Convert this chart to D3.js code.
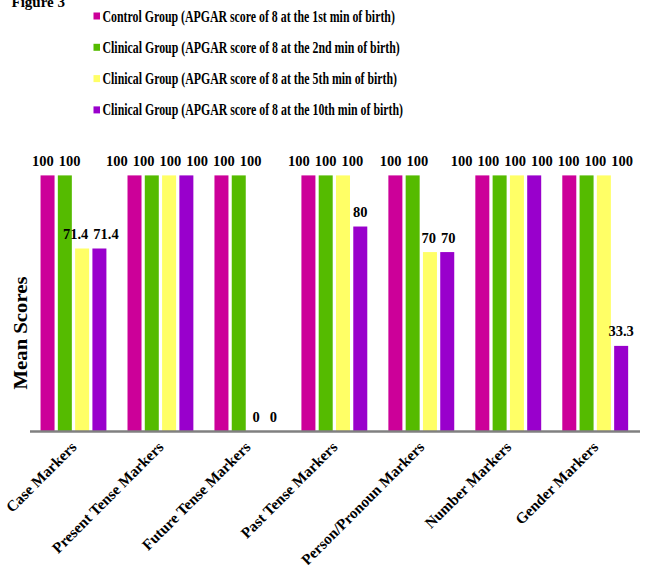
<!DOCTYPE html>
<html>
<head>
<meta charset="utf-8">
<script src="https://cdn.jsdelivr.net/npm/d3@7"></script>
<style>
  html, body { margin: 0; padding: 0; background: #fff; }
  svg text { font-family: "Liberation Serif", "Times New Roman", serif; font-weight: bold; fill: #000; }
</style>
</head>
<body>
<svg id="chart" width="645" height="565"></svg>
<script>
// Categories of grammatical markers
const categories = [
  "Case Markers", "Present Tense Markers", "Future Tense Markers",
  "Past Tense Markers", "Person/Pronoun Markers", "Number Markers", "Gender Markers"
];

// Series names (legend entries)
const seriesNames = [
  "Control Group (APGAR score of 8 at the 1st min of birth)",
  "Clinical Group (APGAR score of 8 at the 2nd min of birth)",
  "Clinical Group (APGAR score of 8 at the 5th min of birth)",
  "Clinical Group (APGAR score of 8 at the 10th min of birth)"
];

// Mean scores per series
const control1st  = [100, 100, 100, 100, 100, 100, 100];
const clinical2nd = [100, 100, 100, 100, 100, 100, 100];
const clinical5th = [71.4, 100, 0, 100, 70, 100, 100];
const clinical10th = [71.4, 100, 0, 80, 70, 100, 33.3];

const seriesColors = ["#cc0099", "#55bb00", "#ffff66", "#9900cc"];

const seriesValues = [control1st, clinical2nd, clinical5th, clinical10th];

const svg = d3.select("#chart");

const x0 = d3.scaleBand()
  .domain(categories)
  .range([30, 638.7])
  .paddingInner(0)
  .paddingOuter(0);

const x1 = d3.scaleBand()
  .domain(d3.range(seriesNames.length))
  .range([0, x0.bandwidth()])
  .paddingInner(0.19)
  .paddingOuter(0.61);

const y = d3.scaleLinear().domain([0, 100]).range([431, 175.4]);

// Condense or stretch a text run along its baseline
function fitLength(sel, factor) {
  const len = sel.node().getComputedTextLength();
  sel.attr("textLength", len * factor).attr("lengthAdjust", "spacingAndGlyphs");
  return sel;
}

// Title
svg.append("text")
  .attr("x", 11.5)
  .attr("y", 7)
  .style("font-size", "15px")
  .text("Figure 3");

// Legend
const legend = svg.append("g").attr("class", "legend");
seriesNames.forEach((name, i) => {
  const cy = 16 + i * 31.3;
  legend.append("rect")
    .attr("x", 93.5).attr("y", cy - 3.5)
    .attr("width", 6.5).attr("height", 7)
    .attr("fill", seriesColors[i]);
  legend.append("text")
    .attr("x", 102.5).attr("y", cy + 5.5)
    .style("font-size", "16px")
    .text(name)
    .call(fitLength, 0.74);
});

// Bars
const rows = [];
categories.forEach((cat, ci) => {
  seriesValues.forEach((vals, si) => {
    rows.push({ cat, si, value: vals[ci] });
  });
});

svg.append("g")
  .selectAll("rect")
  .data(rows.filter(d => d.value > 0))
  .join("rect")
  .attr("x", d => x0(d.cat) + x1(d.si))
  .attr("y", d => y(d.value))
  .attr("width", x1.bandwidth())
  .attr("height", d => y(0) - y(d.value))
  .attr("fill", d => seriesColors[d.si]);

// Value labels, spread apart where neighbours on the same line would collide
const labelG = svg.append("g");
const labels = rows.map(d => {
  const t = labelG.append("text")
    .attr("text-anchor", "middle")
    .style("font-size", "14.5px")
    .text(String(d.value));
  return {
    node: t,
    cx: x0(d.cat) + x1(d.si) + x1.bandwidth() / 2,
    baseline: y(d.value) - 9.5,
    w: t.node().getComputedTextLength()
  };
});

const gap = 5;
d3.groups(labels, d => Math.round(d.baseline)).forEach(([, line]) => {
  line.sort((a, b) => a.cx - b.cx);
  let clusters = line.map(l => [l]);
  const place = c => {
    const offs = [0];
    for (let k = 1; k < c.length; k++) {
      offs.push(offs[k - 1] + (c[k - 1].w + c[k].w) / 2 + gap);
    }
    const shift = d3.mean(c, l => l.cx) - d3.mean(offs);
    c.forEach((l, k) => { l.x = offs[k] + shift; });
  };
  let merged = true;
  while (merged) {
    merged = false;
    clusters.forEach(place);
    for (let k = 0; k < clusters.length - 1; k++) {
      const a = clusters[k][clusters[k].length - 1];
      const b = clusters[k + 1][0];
      if (a.x + a.w / 2 + gap > b.x - b.w / 2) {
        clusters.splice(k, 2, clusters[k].concat(clusters[k + 1]));
        merged = true;
        break;
      }
    }
  }
});
labels.forEach(l => l.node.attr("x", l.x).attr("y", l.baseline));

// Category axis line
svg.append("line")
  .attr("x1", 30).attr("x2", 640)
  .attr("y1", y(0) + 0.5).attr("y2", y(0) + 0.5)
  .attr("stroke", "#808080")
  .attr("stroke-width", 2.5);

// Rotated category labels
svg.append("g")
  .selectAll("text")
  .data(categories)
  .join("text")
  .attr("text-anchor", "end")
  .attr("transform", d => `translate(${x0(d) + x0.bandwidth() / 2 + 4},${448}) rotate(-45)`)
  .style("font-size", "15.3px")
  .text(d => d);

// Y axis title
svg.append("text")
  .attr("text-anchor", "middle")
  .attr("transform", "translate(27,333) rotate(-90)")
  .style("font-size", "18px")
  .text("Mean Scores")
  .call(fitLength, 1.15);
</script>
</body>
</html>
